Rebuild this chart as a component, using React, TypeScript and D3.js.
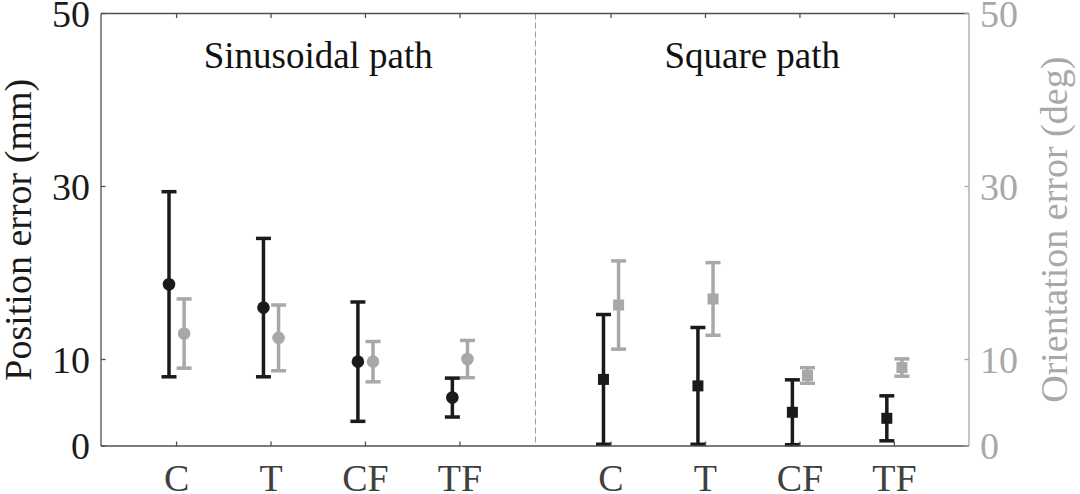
import { useEffect, useRef } from "react"
import * as d3 from "d3"

const categories = ["C", "T", "CF", "TF"]
const panelTitles = ["Sinusoidal path", "Square path"]
const yTicks = [0, 10, 30, 50]

// Sinusoidal path
const sinPosMean = [18.7, 16.0, 9.75, 5.6]
const sinPosSd = [10.7, 8.0, 6.9, 2.25]
const sinOriMean = [13.0, 12.5, 9.75, 10.05]
const sinOriSd = [4.0, 3.8, 2.33, 2.15]

// Square path
const sqPosMean = [7.7, 6.95, 3.9, 3.2]
const sqPosSd = [7.5, 6.75, 3.75, 2.6]
const sqOriMean = [16.3, 17.0, 8.15, 9.07]
const sqOriSd = [5.1, 4.2, 0.9, 1.0]

const BLACK = "#1a1a1a"
const GREY = "#a8a8a8"
const FONT = "'Liberation Serif', 'Times New Roman', serif"

export default function App() {
  const svgRef = useRef<SVGSVGElement>(null)

  useEffect(() => {
    if (!svgRef.current) return
    document.body.style.margin = "0"

    const svg = d3.select(svgRef.current)
    svg.selectAll("*").remove()

    const left = 101
    const right = 969
    const top = 13.5
    const bottom = 446

    const x = d3.scaleLinear().domain([0.2, 9.39]).range([left, right])
    const y = d3.scaleLinear().domain([0, 50]).range([bottom, top])

    // category positions: two groups of four
    const groupStart = [1, 5.6]
    const divider = (groupStart[0] + 3 + groupStart[1]) / 2
    const offset = 0.08

    const groups = [
      { start: groupStart[0], pos: sinPosMean, posSd: sinPosSd, ori: sinOriMean, oriSd: sinOriSd, marker: "circle" },
      { start: groupStart[1], pos: sqPosMean, posSd: sqPosSd, ori: sqOriMean, oriSd: sqOriSd, marker: "square" },
    ]
    const tickPos = groups.flatMap((g) => categories.map((_, i) => g.start + i))

    // divider
    svg.append("line")
      .attr("x1", x(divider)).attr("x2", x(divider))
      .attr("y1", top).attr("y2", bottom)
      .attr("stroke", "#9a9a9a").attr("stroke-width", 1)
      .attr("stroke-dasharray", "6,3")

    // panel titles
    svg.selectAll(".title")
      .data(panelTitles)
      .enter()
      .append("text")
      .attr("x", (_, i) => (i === 0 ? (left + x(divider)) / 2 : (x(divider) + right) / 2))
      .attr("y", 68)
      .attr("text-anchor", "middle")
      .attr("font-family", FONT)
      .attr("font-size", 37)
      .attr("fill", "#111")
      .text((d) => d)

    // error bars
    const capW = 7.5
    groups.forEach((g) => {
      const series = [
        { mean: g.pos, sd: g.posSd, color: BLACK, dx: -offset },
        { mean: g.ori, sd: g.oriSd, color: GREY, dx: offset },
      ]
      series.forEach((s) => {
        s.mean.forEach((m, i) => {
          const cx = x(g.start + i + s.dx)
          const lo = y(m - s.sd[i])
          const hi = y(m + s.sd[i])
          const grp = svg.append("g").attr("stroke", s.color).attr("stroke-width", 3.5)
          grp.append("line").attr("x1", cx).attr("x2", cx).attr("y1", lo).attr("y2", hi)
          grp.append("line").attr("x1", cx - capW).attr("x2", cx + capW).attr("y1", lo).attr("y2", lo)
          grp.append("line").attr("x1", cx - capW).attr("x2", cx + capW).attr("y1", hi).attr("y2", hi)
          if (g.marker === "circle") {
            svg.append("circle").attr("cx", cx).attr("cy", y(m)).attr("r", 6.3).attr("fill", s.color)
          } else {
            svg.append("rect")
              .attr("x", cx - 5.5).attr("y", y(m) - 5.5)
              .attr("width", 11).attr("height", 11)
              .attr("fill", s.color)
          }
        })
      })
    })

    // box axes
    const axisColor = "#505050"
    svg.append("line").attr("x1", left).attr("x2", right).attr("y1", top).attr("y2", top)
      .attr("stroke", axisColor).attr("stroke-width", 1.3)
    svg.append("line").attr("x1", left).attr("x2", right).attr("y1", bottom).attr("y2", bottom)
      .attr("stroke", axisColor).attr("stroke-width", 1.3)
    svg.append("line").attr("x1", left).attr("x2", left).attr("y1", top).attr("y2", bottom)
      .attr("stroke", axisColor).attr("stroke-width", 1.3)
    svg.append("line").attr("x1", right).attr("x2", right).attr("y1", top).attr("y2", bottom)
      .attr("stroke", GREY).attr("stroke-width", 1.3)

    const tickLen = 4.5
    // x ticks, top and bottom
    svg.selectAll(".xtick-b").data(tickPos).enter().append("line")
      .attr("x1", (d) => x(d)).attr("x2", (d) => x(d))
      .attr("y1", bottom).attr("y2", bottom - tickLen)
      .attr("stroke", axisColor).attr("stroke-width", 1.3)
    svg.selectAll(".xtick-t").data(tickPos).enter().append("line")
      .attr("x1", (d) => x(d)).attr("x2", (d) => x(d))
      .attr("y1", top).attr("y2", top + tickLen)
      .attr("stroke", axisColor).attr("stroke-width", 1.3)

    // x labels
    svg.selectAll(".xlabel").data(tickPos).enter().append("text")
      .attr("x", (d) => x(d))
      .attr("y", 491)
      .attr("text-anchor", "middle")
      .attr("font-family", FONT)
      .attr("font-size", 38)
      .attr("fill", "#404040")
      .text((_, i) => categories[i % categories.length])

    // left y ticks and labels
    svg.selectAll(".ytick-l").data(yTicks).enter().append("line")
      .attr("x1", left).attr("x2", left + tickLen)
      .attr("y1", (d) => y(d)).attr("y2", (d) => y(d))
      .attr("stroke", axisColor).attr("stroke-width", 1.3)
    svg.selectAll(".ylabel-l").data(yTicks).enter().append("text")
      .attr("x", 90)
      .attr("y", (d) => y(d))
      .attr("dy", "0.35em")
      .attr("text-anchor", "end")
      .attr("font-family", FONT)
      .attr("font-size", 38)
      .attr("fill", BLACK)
      .text((d) => d)

    // right y ticks and labels
    svg.selectAll(".ytick-r").data(yTicks).enter().append("line")
      .attr("x1", right).attr("x2", right - tickLen)
      .attr("y1", (d) => y(d)).attr("y2", (d) => y(d))
      .attr("stroke", GREY).attr("stroke-width", 1.3)
    svg.selectAll(".ylabel-r").data(yTicks).enter().append("text")
      .attr("x", 980)
      .attr("y", (d) => y(d))
      .attr("dy", "0.35em")
      .attr("text-anchor", "start")
      .attr("font-family", FONT)
      .attr("font-size", 38)
      .attr("fill", GREY)
      .text((d) => d)

    // axis titles
    const midY = (top + bottom) / 2
    svg.append("text")
      .attr("transform", `translate(31,${midY}) rotate(-90)`)
      .attr("text-anchor", "middle")
      .attr("font-family", FONT)
      .attr("font-size", 38)
      .attr("fill", BLACK)
      .text("Position error (mm)")
    svg.append("text")
      .attr("transform", `translate(1067,${midY}) rotate(-90)`)
      .attr("text-anchor", "middle")
      .attr("font-family", FONT)
      .attr("font-size", 38)
      .attr("fill", GREY)
      .text("Orientation error (deg)")
  }, [])

  return <svg ref={svgRef} width={1080} height={494} style={{ display: "block", background: "#fff" }} />
}
